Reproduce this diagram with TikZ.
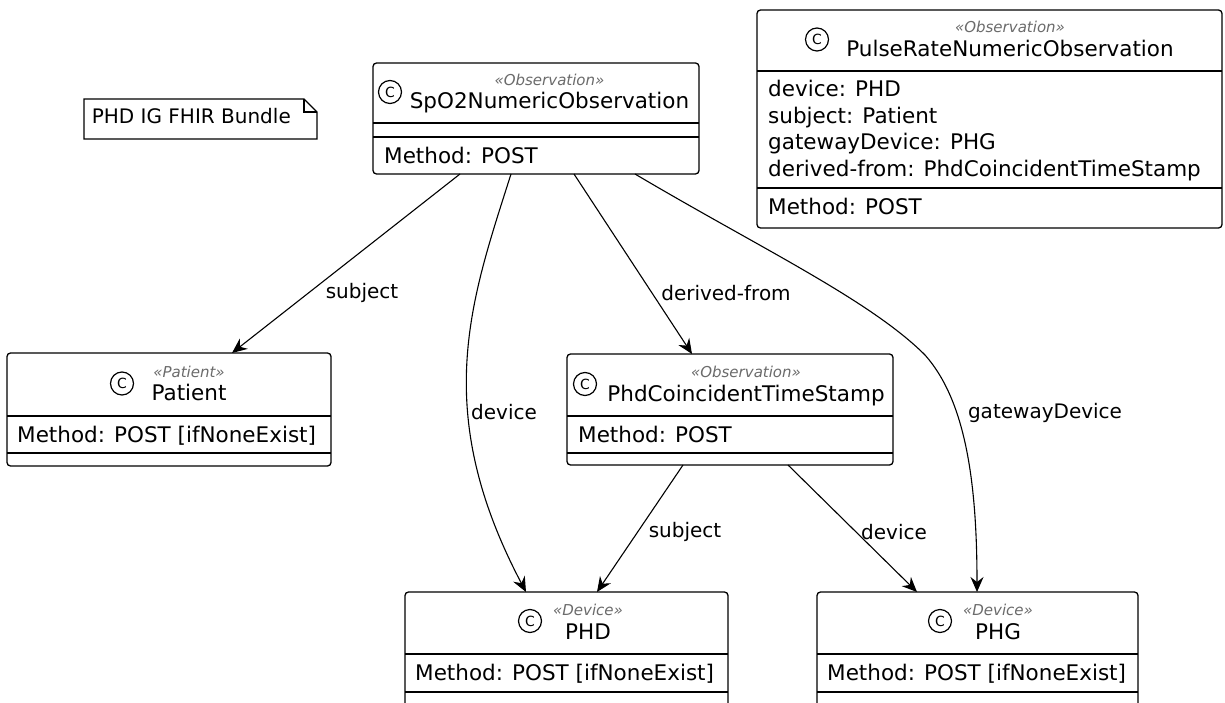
\documentclass[tikz,border=0pt]{standalone}
\usepackage{fontspec}
\setmainfont{DejaVu Sans}
\usetikzlibrary{arrows.meta,calc}
\definecolor{stereo}{gray}{0.42}

\tikzset{
  classbox/.style={draw=black, line width=1.3pt, fill=white, rounded corners=3.5pt,
    inner sep=0pt, outer sep=0pt, anchor=north west},
  sepline/.style={line width=1.3pt},
  spot/.style={circle, draw=black, line width=1.2pt, minimum size=23pt, inner sep=0pt,
    font=\fontsize{14}{14}\selectfont},
  stereotext/.style={font=\fontsize{15}{15}\selectfont\itshape, text=stereo, anchor=base, inner sep=0pt},
  nametext/.style={font=\fontsize{21.5}{21.5}\selectfont, anchor=base, inner sep=0pt},
  rowtext/.style={font=\fontsize{21.5}{21.5}\selectfont, anchor=base west, inner sep=0pt},
  edgelabel/.style={font=\fontsize{20}{20}\selectfont, inner sep=0pt},
  link/.style={line width=1.1pt, -{Stealth[length=15pt,width=13pt,inset=5pt]}},
  noteline/.style={line width=1.3pt, line join=miter},
}

\begin{document}
\begin{tikzpicture}[x=1pt, y=-1pt]
\clip (0,0) rectangle (1225,703);
\fill[white] (0,0) rectangle (1225,703);

% ---------- note ----------
\draw[noteline, fill=white] (84,99) -- (304,99) -- (317,112) -- (317,139) -- (84,139) -- cycle;
\draw[noteline] (304,99) -- (304,112) -- (317,112);
\node[font=\fontsize{20}{20}\selectfont, anchor=base east, inner sep=0pt] (note) at (291,124) {PHD IG FHIR Bundle};

% ---------- SpO2NumericObservation ----------
\node[classbox, minimum width=326pt, minimum height=111pt] (spo2) at (373,63) {};
\draw[sepline] (373,123) -- (699,123);
\draw[sepline] (373,137) -- (699,137);
\node[spot] (spo2c) at (390,92) {C};
\node[stereotext] (spo2s) at (549.5,85.5) {«Observation»};
\node[nametext] (spo2n) at (549.5,108.5) {SpO2NumericObservation};
\node[rowtext] (spo2m) at (384,163.5) {Method: POST};

% ---------- PulseRateNumericObservation ----------
\node[classbox, minimum width=465pt, minimum height=218pt] (pulse) at (757,10) {};
\draw[sepline] (757,71) -- (1222,71);
\draw[sepline] (757,188) -- (1222,188);
\node[spot] (pulsec) at (817,39.5) {C};
\node[stereotext] (pulses) at (1010,33) {«Observation»};
\node[nametext] (pulsen) at (1010,56.5) {PulseRateNumericObservation};
\node[rowtext] (pulsea) at (768,97) {device: PHD};
\node[rowtext] (pulseb) at (768,123.5) {subject: Patient};
\node[rowtext] (pulsec2) at (768,150) {gatewayDevice: PHG};
\node[rowtext] (pulsed) at (768,176.5) {derived-from: PhdCoincidentTimeStamp};
\node[rowtext] (pulsem) at (768,215) {Method: POST};

% ---------- Patient ----------
\node[classbox, minimum width=324pt, minimum height=113pt] (patient) at (7,353) {};
\draw[sepline] (7,416) -- (331,416);
\draw[sepline] (7,453) -- (331,453);
\node[spot] (patientc) at (122,383.5) {C};
\node[stereotext] (patients) at (189,377) {«Patient»};
\node[nametext] (patientn) at (189,400.5) {Patient};
\node[rowtext] (patientm) at (17,442.5) {Method: POST [ifNoneExist]};

% ---------- PhdCoincidentTimeStamp ----------
\node[classbox, minimum width=326pt, minimum height=111pt] (phdct) at (567,354) {};
\draw[sepline] (567,416) -- (893,416);
\draw[sepline] (567,453) -- (893,453);
\node[spot] (phdctc) at (585,384) {C};
\node[stereotext] (phdcts) at (746,377.5) {«Observation»};
\node[nametext] (phdctn) at (746,401) {PhdCoincidentTimeStamp};
\node[rowtext] (phdctm) at (578,442.5) {Method: POST};

% ---------- PHD ----------
\node[classbox, minimum width=323pt, minimum height=150pt] (phd) at (405,592) {};
\draw[sepline] (405,654) -- (728,654);
\draw[sepline] (405,692) -- (728,692);
\node[spot] (phdc) at (530,621) {C};
\node[stereotext] (phds) at (588,615.5) {«Device»};
\node[nametext] (phdn) at (588,639) {PHD};
\node[rowtext] (phdm) at (415,680.5) {Method: POST [ifNoneExist]};

% ---------- PHG ----------
\node[classbox, minimum width=321pt, minimum height=150pt] (phg) at (817,592) {};
\draw[sepline] (817,654) -- (1138,654);
\draw[sepline] (817,692) -- (1138,692);
\node[spot] (phgc) at (940,621) {C};
\node[stereotext] (phgs) at (998,615.5) {«Device»};
\node[nametext] (phgn) at (998,639) {PHG};
\node[rowtext] (phgm) at (827,680.5) {Method: POST [ifNoneExist]};

% ---------- associations ----------
\draw[link] ($(spo2.south west)+(87,0)$) -- ($(patient.north west)+(225,0)$);
\node[edgelabel] (lsubj1) at (362,293) {subject};

\draw[link] ($(spo2.south west)+(138,0)$) .. controls +(-40,126) and +(-96,-182) .. ($(phd.north west)+(121,0)$);
\node[edgelabel] (ldev1) at (504,412) {device};

\draw[link] ($(spo2.south west)+(201,0)$) -- ($(phdct.north west)+(125,0)$);
\node[edgelabel] (lderiv) at (726,293) {derived-from};

\coordinate (gwbend) at (925,355);
\draw[link] ($(spo2.south west)+(262,0)$) .. controls +(125,74) and +(-55,-55) .. (gwbend)
  .. controls +(40,45) and +(0,-112) .. ($(phg.north west)+(160,0)$);
\node[edgelabel] (lgw) at (1045,413) {gatewayDevice};

\draw[link] ($(phdct.south west)+(116,0)$) -- ($(phd.north west)+(192,0)$);
\node[edgelabel] (lsubj2) at (685,532) {subject};

\draw[link] ($(phdct.south west)+(221,0)$) -- ($(phg.north west)+(100,0)$);
\node[edgelabel] (ldev2) at (894,532) {device};
\end{tikzpicture}
\end{document}
